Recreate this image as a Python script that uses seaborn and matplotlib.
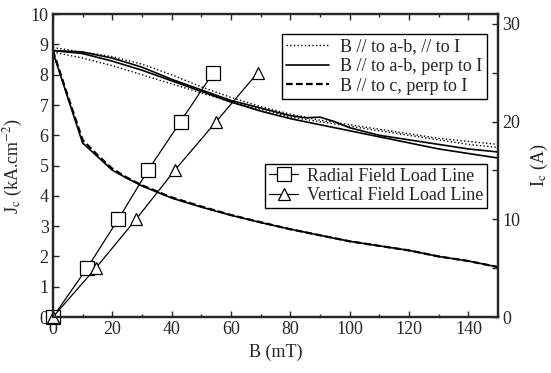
import pandas as pd
import matplotlib.pyplot as plt
import seaborn as sns

# Jc curves (kA/cm2) vs B (mT)
b_band = [0, 10, 20, 30, 40, 50, 60, 70, 80, 90, 100, 110, 120, 130, 140, 150]
jc_ab_par_1 = [8.9, 8.75, 8.6, 8.35, 8.0, 7.6, 7.25, 6.95, 6.7, 6.5, 6.35, 6.2, 6.05, 5.9, 5.8, 5.7]
jc_ab_par_2 = [8.75, 8.55, 8.3, 8.0, 7.7, 7.4, 7.1, 6.85, 6.6, 6.45, 6.3, 6.15, 6.0, 5.85, 5.7, 5.6]
b_perp = [0, 10, 20, 30, 40, 50, 60, 70, 80, 85, 90, 95, 100, 110, 120, 130, 140, 150]
jc_ab_perp_1 = [8.8, 8.75, 8.55, 8.25, 7.85, 7.5, 7.15, 6.9, 6.65, 6.58, 6.6, 6.45, 6.25, 6.0, 5.85, 5.7, 5.55, 5.45]
jc_ab_perp_2 = [8.8, 8.7, 8.45, 8.15, 7.8, 7.45, 7.1, 6.8, 6.55, 6.45, 6.35, 6.25, 6.15, 5.95, 5.75, 5.55, 5.4, 5.25]

b_c = [0, 5, 10, 15, 20, 25, 30, 40, 50, 60, 70, 80, 90, 100, 110, 120, 130, 140, 150]
jc_c_perp = [8.8, 7.3, 5.85, 5.35, 4.9, 4.6, 4.35, 3.95, 3.65, 3.37, 3.13, 2.9, 2.7, 2.5, 2.35, 2.2, 2.0, 1.85, 1.65]
jc_c_perp_2 = [8.75, 7.25, 5.75, 5.3, 4.85, 4.58, 4.33, 3.93, 3.63, 3.36, 3.12, 2.9, 2.7, 2.5, 2.35, 2.2, 2.0, 1.85, 1.65]

# load lines, Ic (A)
b_radial = [0, 11.5, 22, 32, 43, 54]
ic_radial = [0, 5, 10, 15, 20, 25]
b_vertical = [0, 14.4, 28, 41, 55, 69]
ic_vertical = [0, 5, 10, 15, 20, 25]

sns.set_style("ticks")
plt.rcParams['font.family'] = ['Liberation Serif', 'DejaVu Serif']
plt.rcParams['mathtext.fontset'] = 'stix'
plt.rcParams['font.size'] = 13

fig = plt.figure(figsize=(5.51, 3.73), dpi=100)
ax = fig.add_axes([0.096, 0.150, 0.808, 0.812])

lw = 1.2
sns.lineplot(x=b_band, y=jc_ab_par_1, ax=ax, color='black', lw=1.0, linestyle=':', label='B // to a-b, // to I')
sns.lineplot(x=b_band, y=jc_ab_par_2, ax=ax, color='black', lw=1.0, linestyle=':')
sns.lineplot(x=b_perp, y=jc_ab_perp_1, ax=ax, color='black', lw=lw, linestyle='-', label='B // to a-b, perp to I')
sns.lineplot(x=b_perp, y=jc_ab_perp_2, ax=ax, color='black', lw=lw, linestyle='-')
sns.lineplot(x=b_c, y=jc_c_perp, ax=ax, color='black', lw=1.6, linestyle=(0, (3, 1.5)), label='B // to c, perp to I')
sns.lineplot(x=b_c, y=jc_c_perp_2, ax=ax, color='black', lw=1.2, linestyle='-')

ax.set_xlim(0, 150)
ax.set_ylim(0, 10)
ax.set_xticks(range(0, 141, 20))
ax.set_xticks(range(0, 151, 10), minor=True)
ax.set_yticks(range(0, 11))
ax.set_xlabel('B (mT)', labelpad=4)
ax.set_ylabel(r'J$_\mathrm{c}$ (kA.cm$^{-2}$)', labelpad=4)
ax.tick_params(direction='in', which='both', top=True, length=4, width=1, pad=3)
ax.tick_params(which='minor', length=2)
for s in ax.spines.values():
    s.set_linewidth(1.6)

ax.legend(loc='upper right', bbox_to_anchor=(0.975, 0.935), frameon=True, fancybox=False,
          edgecolor='black', framealpha=1, handlelength=2.4, borderpad=0.25,
          labelspacing=0.15, handletextpad=0.6, borderaxespad=0)

ax2 = ax.twinx()
sns.lineplot(x=b_radial, y=ic_radial, ax=ax2, color='black', lw=0.9, marker='s', markersize=10,
             markerfacecolor='white', markeredgecolor='black', markeredgewidth=0.9,
             label='Radial Field Load Line', clip_on=False)
sns.lineplot(x=b_vertical, y=ic_vertical, ax=ax2, color='black', lw=0.9, marker='^', markersize=9,
             markerfacecolor='white', markeredgecolor='black', markeredgewidth=0.9,
             label='Vertical Field Load Line', clip_on=False)
ax2.set_ylim(0, 31)
ax2.set_yticks([0, 10, 20, 30])
ax2.set_yticks([5, 15, 25], minor=True)
ax2.set_ylabel(r'I$_\mathrm{c}$ (A)', labelpad=6)
ax2.tick_params(direction='in', which='both', length=4, width=1, pad=3)
ax2.legend(loc='upper right', bbox_to_anchor=(0.975, 0.505), frameon=True, fancybox=False,
           edgecolor='black', framealpha=1, handlelength=1.6, borderpad=0.2,
           labelspacing=0.15, handletextpad=0.5, borderaxespad=0)
for s in ax2.spines.values():
    s.set_linewidth(1.6)

fig.savefig('out.png', dpi=100)
